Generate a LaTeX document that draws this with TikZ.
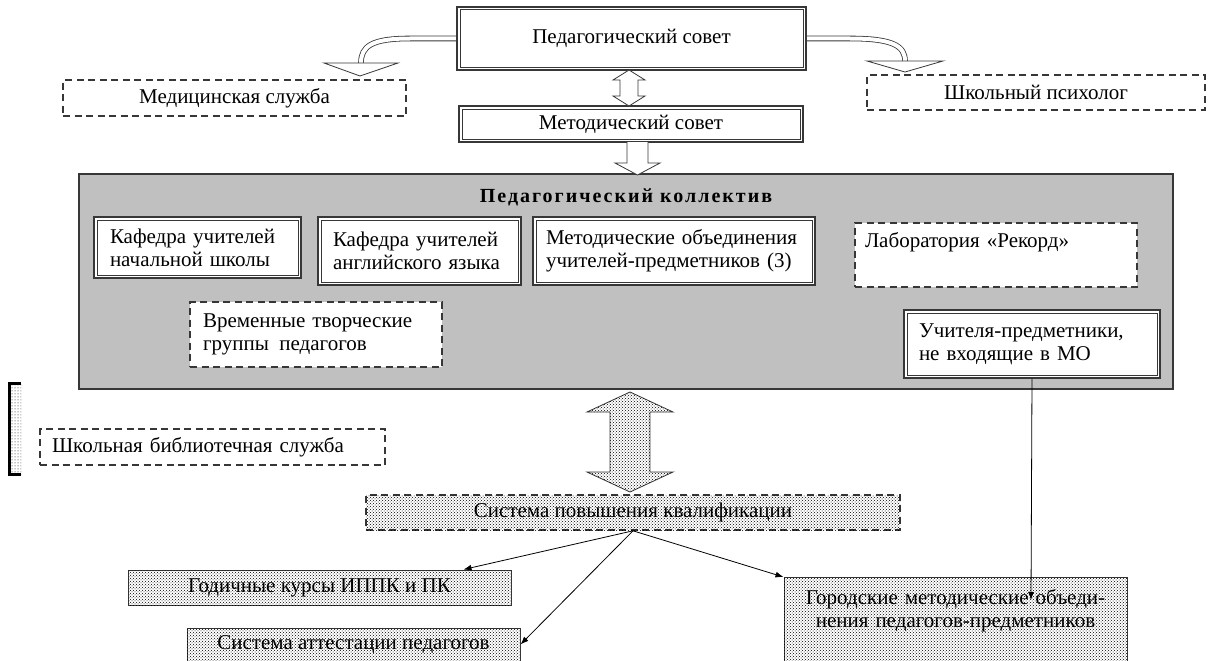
\documentclass[tikz,border=0pt]{standalone}
\usepackage{fontspec}
\setmainfont{Liberation Serif}
\usetikzlibrary{arrows,arrows.meta,patterns,calc}
\definecolor{collgray}{RGB}{192,192,192}
\definecolor{linegray}{RGB}{55,55,55}
\newcommand{\boxfont}{\fontsize{21}{23}\selectfont}
\tikzset{
  dbox/.style={draw=linegray, line width=2.2pt, fill=white, font=\boxfont},
  dashbox/.style={draw=linegray, line width=1.6pt, dash pattern=on 7pt off 4.5pt, fill=white, font=\boxfont},
  dotbox/.style={draw=linegray, line width=1pt, fill=white, postaction={pattern=crosshatch dots, pattern color=black}, font=\boxfont},
  hollow/.style={draw=linegray, line width=0.8pt, fill=white},
  link/.style={draw=black, line width=0.8pt, -{Latex[length=8pt,width=6pt]}},
}

\begin{document}
\begin{tikzpicture}[x=1pt,y=1pt,yscale=-1]
\useasboundingbox (0,0) rectangle (1208,661);

% collective background
\node[draw=linegray, line width=1.5pt, fill=collgray, minimum width=1094pt, minimum height=215pt] (coll) at (626,281.5) {};
\node[font=\fontsize{20}{23}\selectfont\bfseries\addfontfeatures{LetterSpace=10}] (colltitle) at (626,197) {Педагогический коллектив};

% top boxes
\node[dbox, minimum width=349pt, minimum height=63pt] (ped) at (631.5,38.5) {Педагогический совет};
\node[dbox, minimum width=344pt, minimum height=36pt] (metod) at (631,124) {Методический совет};
\node[dashbox, minimum width=343pt, minimum height=36pt] (med) at (234.5,98) {Медицинская служба};
\node[dashbox, minimum width=338pt, minimum height=35pt] (psy) at (1036,92.5) {Школьный психолог};

% inside the collective
\node[dbox, text width=175pt, inner xsep=16pt, minimum height=61pt, align=left] (kafnach) at (197.5,247.5) {Кафедра учителей\\начальной школы};
\node[dbox, text width=173pt, inner xsep=15pt, minimum height=68pt, align=left] (kafeng) at (419.5,251) {Кафедра учителей\\английского языка};
\node[dbox, text width=256pt, inner xsep=13pt, minimum height=68pt, align=left] (mo) at (674,251) {Методические объединения\\учителей-предметников (3)};
\node[dashbox, text width=262pt, inner xsep=10pt, minimum height=64pt, text depth=30pt, align=left] (lab) at (996,255) {Лаборатория «Рекорд»};
\node[dashbox, text width=226pt, inner xsep=13pt, minimum height=65pt, align=left] (vrem) at (316,334.5) {Временные творческие\\группы\, педагогов};
\node[dbox, text width=226pt, inner xsep=15pt, minimum height=68pt, align=left] (uchit) at (1032,344) {Учителя-предметники,\\не входящие в МО};

% inner lines of the double boxes
\foreach \n in {ped,metod,kafnach,kafeng,mo,uchit}
  \draw[line width=0.8pt, draw=linegray] ([xshift=4pt,yshift=4pt]\n.north west) rectangle ([xshift=-4pt,yshift=-4pt]\n.south east);

% lower part
\fill[white, postaction={pattern=dots, pattern color=black}] (9,383) rectangle (21,474);
\draw[line width=3pt] (21,383) -- (9,383) -- (9,474) -- (21,474);
\node[dashbox, text width=321pt, inner xsep=12pt, minimum height=36pt, align=left] (bib) at (212.5,447) {Школьная библиотечная служба};
\node[dotbox, dash pattern=on 7pt off 4.5pt, line width=1.6pt, minimum width=534pt, minimum height=35pt] (pk) at (633,512.5) {Система повышения квалификации};
\node[dotbox, minimum width=383pt, minimum height=35pt] (god) at (319.5,587.5) {Годичные курсы ИППК и ПК};
\node[dotbox, minimum width=333pt, minimum height=33pt] (att) at (353.5,644.5) {Система аттестации педагогов};
\node[dotbox, anchor=north, text width=323pt, inner xsep=10pt, inner ysep=12pt, text depth=60pt, align=center] (gor) at (955.5,577) {Городские методические объеди-\\нения педагогов-предметников};

% hollow arrows at the top
\draw[line width=0.8pt, draw=linegray, double=white, double distance=4pt] (ped.west) -- (410,38.5) .. controls (372,38.5) and (361,46) .. (361,63);
\draw[hollow] (324,63) -- (398,63) -- (360,76) -- cycle;
\draw[line width=0.8pt, draw=linegray, double=white, double distance=4pt] (ped.east) -- (850,38.5) .. controls (893,38.5) and (905,46) .. (905,61);
\draw[hollow] (867,61) -- (943,61) -- (905,72) -- cycle;
\draw[hollow] (629,70) -- (645,80) -- (638,80) -- (638,96) -- (645,96) -- (629,106) -- (613,96) -- (620,96) -- (620,80) -- (613,80) -- cycle;
\draw[hollow] (627,142) -- (627,163) -- (615,163) -- (637.5,175) -- (660,163) -- (648,163) -- (648,142);

% big dotted arrow
\draw[hollow, postaction={pattern=crosshatch dots, pattern color=black}] (630,392) -- (673,412) -- (650,412) -- (650,472) -- (673,472) -- (630,492) -- (587,472) -- (610,472) -- (610,412) -- (587,412) -- cycle;

% connectors
\coordinate (gortip) at (1031,600);
\draw[link] (uchit.south) -- (gortip);
\draw[link] (pk.south) -- ([xshift=-48pt]god.north east);
\draw[link] (pk.south) -- (att.east);
\draw[link] (pk.south) -- (gor.north west);

\end{tikzpicture}
\end{document}
